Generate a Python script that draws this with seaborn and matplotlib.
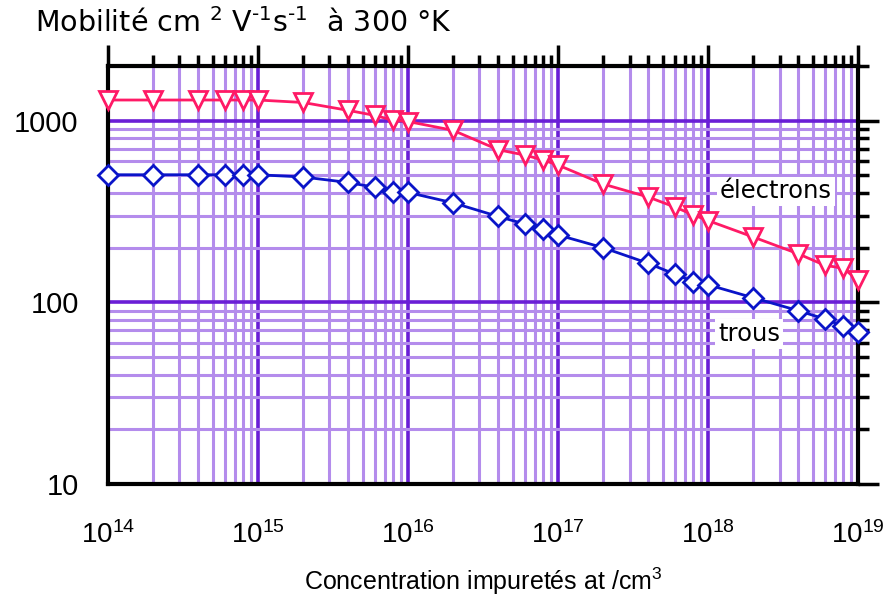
import numpy as np
import pandas as pd
import matplotlib
matplotlib.use("Agg")
import matplotlib.pyplot as plt
import seaborn as sns
from matplotlib.ticker import FixedLocator, FixedFormatter, LogLocator, NullFormatter

# ---- data ----
concentration = [1e14, 2e14, 4e14, 6e14, 8e14, 1e15, 2e15, 4e15, 6e15, 8e15,
                 1e16, 2e16, 4e16, 6e16, 8e16, 1e17, 2e17, 4e17, 6e17, 8e17,
                 1e18, 2e18, 4e18, 6e18, 8e18, 1e19]
electrons = [1300, 1300, 1300, 1300, 1300, 1300, 1260, 1140, 1070, 1005,
             990, 885, 692, 647, 607, 570, 448, 380, 335, 303,
             282, 229, 185, 160, 154, 132]
trous = [504, 504, 504, 504, 504, 504, 490, 457, 430, 405,
         403, 353, 297, 270, 253, 235, 200, 164, 143, 130,
         125, 106, 90, 81, 74, 69]
ytick_values = [10, 100, 1000]
ytick_labels = ["10", "100", "1000"]
title_text = r"Mobilité cm $^{\text{2}}$ V$^{\text{-1}}$s$^{\text{-1}}$  à 300 °K"
xlabel_text = "Concentration impuretés at /cm$^{3}$"

sns.set_style("white")
plt.rcParams["font.family"] = ["Liberation Sans", "DejaVu Sans"]
plt.rcParams["text.color"] = "black"
plt.rcParams["axes.labelcolor"] = "black"
plt.rcParams["xtick.labelcolor"] = "black"
plt.rcParams["ytick.labelcolor"] = "black"
plt.rcParams["mathtext.fontset"] = "custom"
plt.rcParams["mathtext.rm"] = "Liberation Sans"
plt.rcParams["mathtext.it"] = "Liberation Sans"
plt.rcParams["mathtext.bf"] = "Liberation Sans"

df_e = pd.DataFrame({"N": concentration, "mu": electrons})
df_t = pd.DataFrame({"N": concentration, "mu": trous})

fig = plt.figure(figsize=(8.84, 5.97), dpi=100)
ax = fig.add_axes([0.122, 0.1893, 0.8486, 0.7001])

major_c = "#6a1ed6"
minor_c = "#b48cec"
ax.set_xscale("log")
ax.set_yscale("log")
ax.set_xlim(1e14, 1e19)
ax.set_ylim(10, 2000)
ax.set_axisbelow(True)
ax.xaxis.set_minor_locator(LogLocator(base=10, subs=np.arange(2, 10)))
ax.yaxis.set_minor_locator(LogLocator(base=10, subs=np.arange(2, 10)))
ax.grid(which="minor", color=minor_c, lw=2.2)
ax.grid(which="major", color=major_c, lw=2.6)

e_col = "#ff1a66"
t_col = "#0a14c8"
sns.lineplot(data=df_e, x="N", y="mu", ax=ax, color=e_col, lw=2, marker="v",
             markersize=13.5, markerfacecolor="white", markeredgecolor=e_col,
             markeredgewidth=2, clip_on=False, zorder=5)
sns.lineplot(data=df_t, x="N", y="mu", ax=ax, color=t_col, lw=2, marker="D",
             markersize=10, markerfacecolor="white", markeredgecolor=t_col,
             markeredgewidth=2, clip_on=False, zorder=5)

ax.yaxis.set_major_locator(FixedLocator(ytick_values))
ax.yaxis.set_major_formatter(FixedFormatter(ytick_labels))
ax.yaxis.set_minor_formatter(NullFormatter())
ax.xaxis.set_minor_formatter(NullFormatter())

for s in ax.spines.values():
    s.set_color("black")
    s.set_linewidth(3)
ax.tick_params(which="both", direction="out", top=True, right=True,
               color="black", width=2.5)
ax.tick_params(which="major", length=15, pad=6)
ax.tick_params(axis="y", which="major", labelsize=21)
ax.tick_params(axis="x", which="major", labelsize=20, pad=12)
ax.tick_params(which="minor", length=8)

ax.set_xlabel(xlabel_text, fontsize=18, labelpad=12)
ax.set_ylabel("")

fig.text(0.04, 0.962, title_text, fontsize=20.5, family="DejaVu Sans",
         ha="left", va="center", math_fontfamily="dejavusans")

ax.text(2.84e18, 408, "électrons", fontsize=17.5, family="DejaVu Sans",
        ha="center", va="center", zorder=4,
        bbox=dict(facecolor="white", edgecolor="none", pad=2))
ax.text(1.88e18, 67, "trous", fontsize=17.5, family="DejaVu Sans",
        ha="center", va="center", zorder=4,
        bbox=dict(facecolor="white", edgecolor="none", pad=2))

fig.savefig("out.png", dpi=100, facecolor="white")
